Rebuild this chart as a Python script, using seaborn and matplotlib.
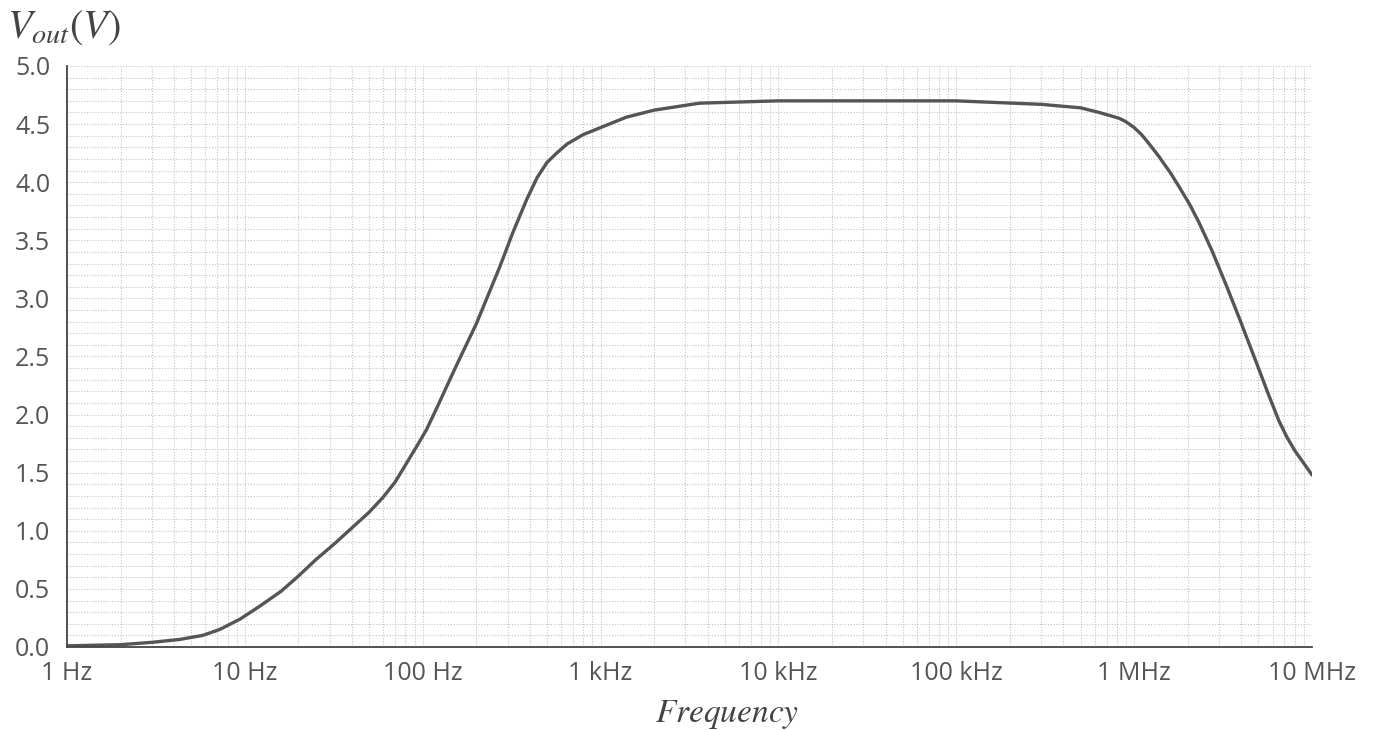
import pandas as pd
import seaborn as sns
import matplotlib.pyplot as plt
import matplotlib.ticker as mticker
import numpy as np

# values
freq_hz = [1, 2, 3, 4.3, 5.8, 7.2, 9.4, 12.1, 16, 20, 25, 32, 39, 50, 60, 70,
           81, 92, 105, 122, 142, 160, 177, 200, 235, 271, 320, 384, 440, 500,
           566, 650, 800, 1000, 1400, 2000, 3600, 10000, 100000, 300000,
           500000, 636000, 824000, 900000, 1e6, 1.1e6, 1.2e6, 1.38e6, 1.6e6,
           1.79e6, 2.05e6, 2.32e6, 2.74e6, 3.3e6, 3.9e6, 5.0e6, 5.7e6, 6.5e6,
           7.2e6, 8e6, 9e6, 1e7]
vout = [0.01, 0.02, 0.04, 0.065, 0.10, 0.15, 0.24, 0.35, 0.48, 0.61, 0.75,
        0.89, 1.01, 1.16, 1.29, 1.42, 1.58, 1.72, 1.87, 2.08, 2.30, 2.47, 2.61,
        2.78, 3.04, 3.27, 3.56, 3.85, 4.04, 4.17, 4.25, 4.33, 4.41, 4.47, 4.56,
        4.62, 4.68, 4.70, 4.70, 4.67, 4.64, 4.60, 4.55, 4.52, 4.47, 4.41, 4.34,
        4.22, 4.08, 3.96, 3.81, 3.65, 3.41, 3.11, 2.83, 2.40, 2.17, 1.95, 1.81,
        1.69, 1.58, 1.48]

xtick_vals = [1, 10, 100, 1e3, 1e4, 1e5, 1e6, 1e7]
xtick_labels = ["1 Hz", "10 Hz", "100 Hz", "1 kHz", "10 kHz", "100 kHz", "1 MHz", "10 MHz"]
ytick_vals = [0.0, 0.5, 1.0, 1.5, 2.0, 2.5, 3.0, 3.5, 4.0, 4.5, 5.0]

df = pd.DataFrame({"f": freq_hz, "v": vout})

sns.set_style("white")
plt.rcParams['font.family'] = ['Open Sans', 'DejaVu Sans']
plt.rcParams['mathtext.fontset'] = 'stix'

fig = plt.figure(figsize=(13.75, 7.3), dpi=100)
ax = fig.add_axes([0.0487, 0.1137, 0.9055, 0.7959])

sns.lineplot(data=df, x="f", y="v", ax=ax, color="#555555", linewidth=2.4)

ax.set_xscale("log")
ax.set_xlim(1, 1e7)
ax.set_ylim(0, 5.0)

ax.set_xticks(xtick_vals)
ax.set_xticklabels(xtick_labels)
ax.xaxis.set_minor_locator(mticker.LogLocator(base=10, subs=np.arange(2, 10)))
ax.xaxis.set_minor_formatter(mticker.NullFormatter())
ax.set_yticks(ytick_vals)
ax.set_yticklabels([f"{v:.1f}" for v in ytick_vals])
ax.yaxis.set_minor_locator(mticker.MultipleLocator(0.1))

ax.grid(which="both", linestyle=(0, (1, 1.5)), color="#c2c2c2", linewidth=0.8)

for s in ["top", "right"]:
    ax.spines[s].set_visible(False)
for s in ["left", "bottom"]:
    ax.spines[s].set_color("#444444")
    ax.spines[s].set_linewidth(1.3)

ax.tick_params(axis="both", which="major", direction="out", length=5, width=1.2,
               color="#444444", labelsize=18, labelcolor="#555555")
ax.tick_params(axis="both", which="minor", direction="out", length=4, width=1.0,
               color="#444444")
ax.tick_params(axis="x", which="major", pad=5)
ax.tick_params(axis="y", which="major", pad=7)

ax.set_xlabel("")
ax.set_ylabel("")

fig.text(0.005, 0.962, r"$V_{out}(V)$", fontsize=29, color="#444444", va="center", ha="left")
fig.text(0.529, 0.021, r"$Frequency$", fontsize=24, color="#444444", va="center", ha="center")

fig.savefig("out.png", dpi=100)
